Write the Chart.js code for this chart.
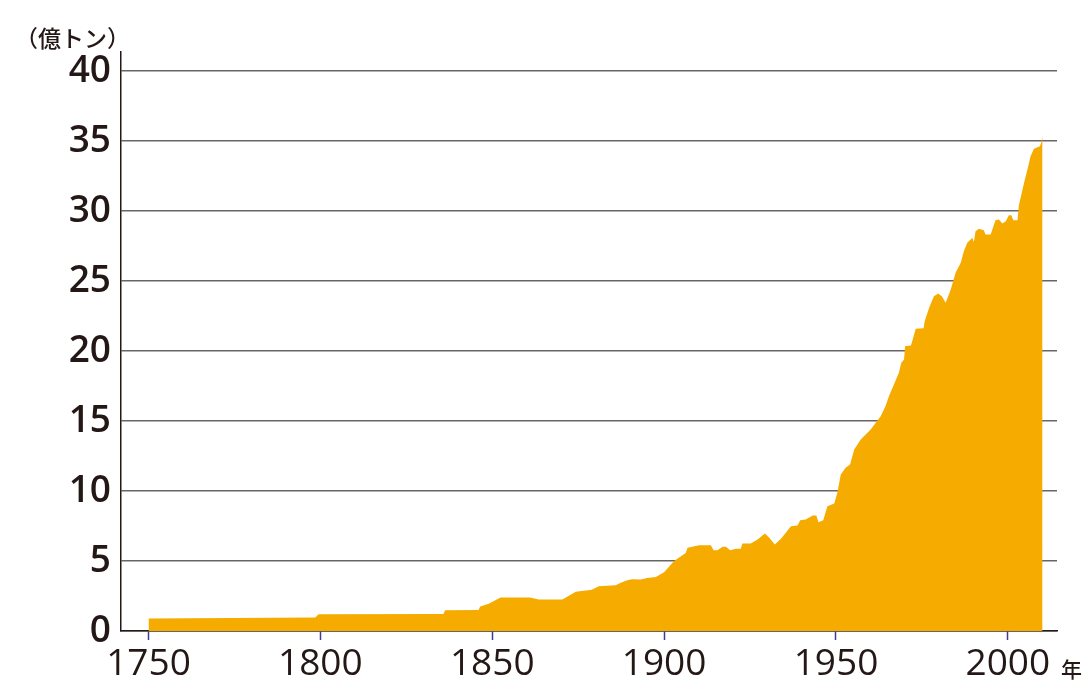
<!DOCTYPE html>
<html lang="ja">
<head>
<meta charset="utf-8">
<title>CO2排出量の推移</title>
<script src="https://cdn.jsdelivr.net/npm/chart.js@4/dist/chart.umd.min.js"></script>
<style>
  html, body { margin: 0; padding: 0; background: #ffffff; }
  #wrap { position: relative; width: 1086px; height: 682px; }
</style>
</head>
<body>
<div id="wrap"><canvas id="grafico" width="1086" height="682"></canvas></div>
<script>
// 年
const anos = [
  1750, 1798.5, 1799.5, 1835.8, 1836.3, 1846, 1846.5, 1849, 1852.4, 1861,
  1863.5, 1870.4, 1874.3, 1879, 1881, 1885.9, 1887.4, 1889.3, 1890.7, 1893.2,
  1895.1, 1897.6, 1900, 1902.9, 1906.3, 1906.8, 1910.2, 1913.6, 1914.4, 1915.5,
  1917, 1918, 1919.2, 1920.9, 1922.3, 1922.8, 1925.2, 1927.2, 1929.3, 1930.6,
  1932.2, 1934, 1936.9, 1938.8, 1939.6, 1941.2, 1943.2, 1944.3, 1944.9, 1946.3,
  1947.5, 1949.5, 1950.4, 1951.4, 1952.8, 1954.1, 1955.3, 1957.2, 1960.1, 1963,
  1964.4, 1965.4, 1968.3, 1969, 1969.8, 1970.1, 1971.8, 1972.3, 1973.2, 1975.5,
  1975.8, 1977.1, 1978.5, 1979.7, 1980.8, 1981.9, 1983.4, 1984.8, 1986.3, 1987.2,
  1988.2, 1989.7, 1990.1, 1990.6, 1991.6, 1993, 1993.5, 1995, 1996.4, 1997.4,
  1998.4, 1999.4, 2000.3, 2001, 2001.6, 2002.8, 2003.2, 2004.7, 2005.7, 2006.6,
  2007.6, 2009.3, 2009.7, 2010.1
];

// 排出量（億トン）
const emissoes = [
  0.9, 0.97, 1.2, 1.22, 1.48, 1.5, 1.75, 1.95, 2.4, 2.4,
  2.25, 2.25, 2.8, 2.95, 3.2, 3.26, 3.45, 3.62, 3.7, 3.67,
  3.78, 3.86, 4.2, 5.0, 5.58, 5.94, 6.13, 6.13, 5.77, 5.77,
  6.01, 6.01, 5.77, 5.87, 5.87, 6.25, 6.25, 6.54, 6.96, 6.66,
  6.18, 6.59, 7.49, 7.54, 7.91, 7.96, 8.25, 8.25, 7.77, 7.91,
  8.91, 9.11, 9.87, 11.18, 11.66, 11.9, 12.96, 13.68, 14.39, 15.34,
  16.06, 16.77, 18.44, 19.16, 19.39, 20.34, 20.39, 20.8, 21.59, 21.63,
  22.13, 23.09, 23.91, 24.1, 23.91, 23.44, 24.39, 25.59, 26.3, 27.13,
  27.73, 28.09, 27.77, 28.56, 28.73, 28.63, 28.32, 28.32, 29.35, 29.39,
  29.11, 29.27, 29.7, 29.7, 29.35, 29.35, 30.4, 32.01, 32.96, 33.91,
  34.44, 34.63, 34.87, 35.4
];

// 目盛り
const ticksY = [0, 5, 10, 15, 20, 25, 30, 35, 40];
const ticksX = [1750, 1800, 1850, 1900, 1950, 2000];

const unidadeY = '（億トン）';
const unidadeX = '年';

const pontos = anos.map((a, i) => ({ x: a, y: emissoes[i] }));

// 単位ラベルを描くプラグイン
const rotulos = {
  id: 'rotulos',
  afterDraw(chart) {
    const c = chart.ctx;
    c.save();
    c.fillStyle = '#231815';
    c.textBaseline = 'middle';
    c.font = '500 23px "Noto Sans CJK JP"';
    c.textAlign = 'left';
    c.fillText(unidadeY, 15, 38);
    c.font = '500 21px "Noto Sans CJK JP"';
    c.fillText(unidadeX, 1061, 669);
    c.restore();
  }
};

const ctx = document.getElementById('grafico').getContext('2d');

const grafico = new Chart(ctx, {
  type: 'line',
  data: {
    datasets: [{
      data: pontos,
      backgroundColor: '#f6ab00',
      borderWidth: 0,
      pointRadius: 0,
      fill: 'origin',
      tension: 0
    }]
  },
  options: {
    responsive: false,
    animation: false,
    layout: { padding: { left: 0, right: 29, top: 52, bottom: 0 } },
    plugins: {
      legend: { display: false },
      tooltip: { enabled: false }
    },
    scales: {
      x: {
        type: 'linear',
        min: 1742,
        max: 2014.3,
        z: 1,
        afterBuildTicks: (s) => { s.ticks = ticksX.map(v => ({ value: v })); },
        afterFit: (s) => { s.height = 51; },
        border: { color: '#231815', width: 1.5 },
        grid: {
          drawOnChartArea: false,
          drawTicks: true,
          tickLength: 9,
          tickColor: '#3d3d99',
          tickWidth: 1.5
        },
        ticks: {
          color: '#231815',
          padding: 2,
          maxRotation: 0,
          autoSkip: false,
          font: { family: '"Open Sans"', size: 37 },
          callback: (v) => String(v)
        }
      },
      y: {
        min: 0,
        max: 41.36,
        z: 1,
        afterBuildTicks: (s) => { s.ticks = ticksY.map(v => ({ value: v })); },
        afterFit: (s) => { s.width = 121; },
        border: { color: '#231815', width: 1.5 },
        grid: {
          color: '#666666',
          lineWidth: 1.4,
          drawTicks: false
        },
        ticks: {
          color: '#231815',
          padding: 10,
          autoSkip: false,
          font: { family: '"Open Sans"', size: 37, weight: '600' },
          callback: (v) => String(v)
        }
      }
    }
  },
  plugins: [rotulos]
});
</script>
</body>
</html>
